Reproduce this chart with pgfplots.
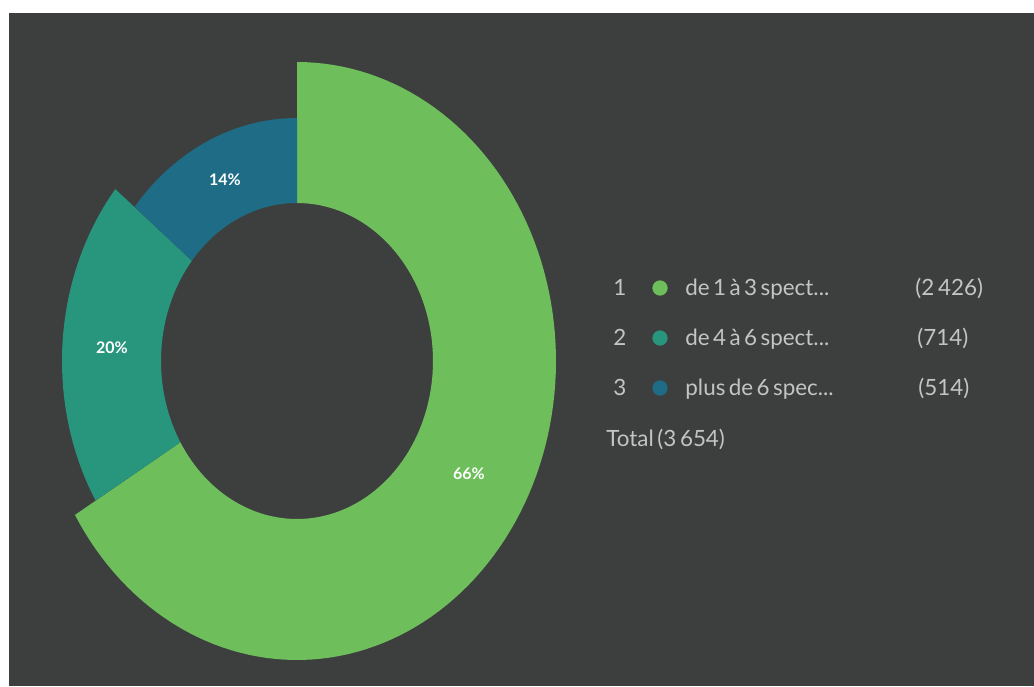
\documentclass[border=0pt]{standalone}
\usepackage{pgfplots}
\usepackage{pgfplotstable}
\pgfplotsset{compat=1.18}
\usepackage{fontspec}
\setmainfont{Lato}
\newfontfamily\legfont[WordSpace=0.6]{Lato}
\definecolor{bgdark}{RGB}{61,63,63}
\definecolor{cgreen}{RGB}{110,191,92}
\definecolor{cteal}{RGB}{40,150,125}
\definecolor{cblue}{RGB}{30,108,133}
\definecolor{ltext}{RGB}{196,196,196}

\pgfplotstableread{
idx count rx ry
1 2426 259 299
2 714 235 271
3 514 210 243
}\donutdata

\begin{document}
\begin{tikzpicture}
\pgfplotstablegetelem{0}{count}\of\donutdata \edef\vA{\pgfplotsretval}
\pgfplotstablegetelem{1}{count}\of\donutdata \edef\vB{\pgfplotsretval}
\pgfplotstablegetelem{2}{count}\of\donutdata \edef\vC{\pgfplotsretval}
\pgfmathsetmacro{\tot}{\vA+\vB+\vC}
\pgfmathsetmacro{\aA}{360*(\vA/\tot)}
\pgfmathsetmacro{\aB}{360*((\vA+\vB)/\tot)}
\begin{axis}[
  x=0.5pt, y=0.5pt, y dir=reverse,
  xmin=0, xmax=1034, ymin=0, ymax=686,
  hide axis, clip=false,
]
\fill[white] (axis cs:0,0) rectangle (axis cs:1034,686);
\fill[bgdark] (axis cs:9,13) rectangle (axis cs:1034,686);
% slices
\fill[cgreen] plot[domain=0:\aA, samples=120, variable=\t] ({297+259*sin(\t)},{361-299*cos(\t)})
  -- plot[domain=\aA:0, samples=120, variable=\t] ({297+136*sin(\t)},{361-158*cos(\t)}) -- cycle;
\fill[cteal] plot[domain=\aA:\aB, samples=60, variable=\t] ({297+235*sin(\t)},{361-271*cos(\t)})
  -- plot[domain=\aB:\aA, samples=60, variable=\t] ({297+136*sin(\t)},{361-158*cos(\t)}) -- cycle;
\fill[cblue] plot[domain=\aB:360, samples=60, variable=\t] ({297+210*sin(\t)},{361-243*cos(\t)})
  -- plot[domain=360:\aB, samples=60, variable=\t] ({297+136*sin(\t)},{361-158*cos(\t)}) -- cycle;
% percent labels
\node[white, font=\fontsize{8}{9}\selectfont\bfseries] at (axis cs:225,180) {14\%};
\node[white, font=\fontsize{8}{9}\selectfont\bfseries] at (axis cs:112,348) {20\%};
\node[white, font=\fontsize{8}{9}\selectfont\bfseries] at (axis cs:469,474) {66\%};
% legend markers
\addplot[only marks, mark=*, mark size=3.6pt, cgreen] coordinates {(660,288)};
\addplot[only marks, mark=*, mark size=3.6pt, cteal] coordinates {(660,338)};
\addplot[only marks, mark=*, mark size=3.6pt, cblue] coordinates {(660,388)};
% legend text
\begin{scope}[every node/.style={text=ltext, font=\legfont\fontsize{11.2}{13}\selectfont, anchor=base west, inner sep=0pt}]
\node at (axis cs:613,295) {1};
\node at (axis cs:613,345) {2};
\node at (axis cs:613,395) {3};
\node at (axis cs:685,295) {de 1 à 3 spect...};
\node at (axis cs:685,345) {de 4 à 6 spect...};
\node at (axis cs:685,395) {plus de 6 spec...};
\node at (axis cs:915,295) {(2\,426)};
\node at (axis cs:917,345) {(714)};
\node at (axis cs:918,395) {(514)};
\node at (axis cs:606,446) {Total (3\,654)};
\end{scope}
\end{axis}
\end{tikzpicture}
\end{document}
